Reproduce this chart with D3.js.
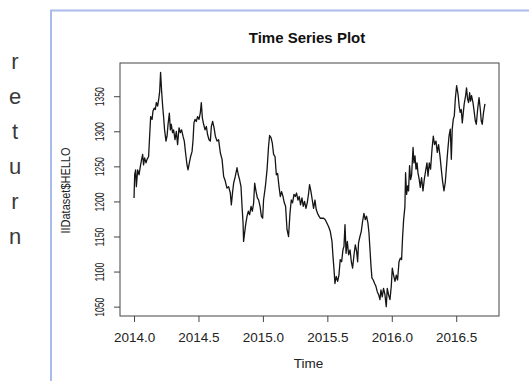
<!DOCTYPE html>
<html>
<head>
<meta charset="utf-8">
<script src="https://cdn.jsdelivr.net/npm/d3@7/dist/d3.min.js"></script>
<style>
  html, body { margin: 0; padding: 0; background: #fff; }
  svg { display: block; font-family: "Liberation Sans", Arial, sans-serif; }
</style>
</head>
<body>
<svg id="chart" width="529" height="381"></svg>
<script>
// Daily series: time in fractional years and the HELLO values
const times = [
  2014.000, 2014.005, 2014.012, 2014.018, 2014.028, 2014.039, 2014.049, 2014.059, 2014.067, 2014.074,
  2014.082, 2014.093, 2014.101, 2014.113, 2014.121, 2014.129, 2014.140, 2014.147, 2014.157, 2014.165,
  2014.173, 2014.183, 2014.191, 2014.199, 2014.206, 2014.214, 2014.222, 2014.230, 2014.237, 2014.248,
  2014.256, 2014.264, 2014.274, 2014.282, 2014.289, 2014.299, 2014.307, 2014.318, 2014.328, 2014.338,
  2014.349, 2014.359, 2014.369, 2014.380, 2014.390, 2014.400, 2014.411, 2014.419, 2014.429, 2014.439,
  2014.450, 2014.458, 2014.465, 2014.473, 2014.483, 2014.493, 2014.504, 2014.514, 2014.522, 2014.530,
  2014.540, 2014.551, 2014.561, 2014.571, 2014.582, 2014.592, 2014.600, 2014.610, 2014.621, 2014.631,
  2014.644, 2014.656, 2014.670, 2014.683, 2014.695, 2014.708, 2014.721, 2014.734, 2014.747, 2014.755,
  2014.765, 2014.773, 2014.786, 2014.799, 2014.809, 2014.819, 2014.830, 2014.838, 2014.846, 2014.850,
  2014.858, 2014.866, 2014.877, 2014.887, 2014.897, 2014.908, 2014.918, 2014.928, 2014.936, 2014.947,
  2014.957, 2014.967, 2014.978, 2014.988, 2014.998, 2015.005, 2015.019, 2015.032, 2015.044, 2015.052,
  2015.063, 2015.073, 2015.083, 2015.094, 2015.104, 2015.114, 2015.125, 2015.135, 2015.145, 2015.156,
  2015.166, 2015.176, 2015.187, 2015.199, 2015.210, 2015.220, 2015.230, 2015.241, 2015.251, 2015.261,
  2015.272, 2015.282, 2015.292, 2015.303, 2015.313, 2015.323, 2015.334, 2015.344, 2015.355, 2015.362,
  2015.373, 2015.383, 2015.393, 2015.404, 2015.414, 2015.424, 2015.435, 2015.445, 2015.471, 2015.484,
  2015.497, 2015.510, 2015.523, 2015.536, 2015.544, 2015.552, 2015.559, 2015.569, 2015.580, 2015.590,
  2015.600, 2015.611, 2015.621, 2015.629, 2015.637, 2015.645, 2015.655, 2015.665, 2015.676, 2015.686,
  2015.696, 2015.707, 2015.717, 2015.727, 2015.735, 2015.742, 2015.753, 2015.763, 2015.773, 2015.784,
  2015.794, 2015.804, 2015.815, 2015.823, 2015.831, 2015.839, 2015.846, 2015.856, 2015.867, 2015.877,
  2015.888, 2015.898, 2015.908, 2015.916, 2015.926, 2015.936, 2015.947, 2015.957, 2015.965, 2015.975,
  2015.986, 2015.996, 2016.004, 2016.014, 2016.025, 2016.035, 2016.045, 2016.056, 2016.066, 2016.076,
  2016.084, 2016.092, 2016.102, 2016.107, 2016.115, 2016.123, 2016.130, 2016.138, 2016.146, 2016.154,
  2016.165, 2016.172, 2016.180, 2016.188, 2016.196, 2016.203, 2016.213, 2016.221, 2016.231, 2016.242,
  2016.252, 2016.262, 2016.273, 2016.281, 2016.291, 2016.301, 2016.312, 2016.322, 2016.332, 2016.343,
  2016.353, 2016.363, 2016.374, 2016.384, 2016.394, 2016.405, 2016.415, 2016.423, 2016.433, 2016.444,
  2016.454, 2016.462, 2016.469, 2016.477, 2016.485, 2016.493, 2016.503, 2016.514, 2016.524, 2016.531,
  2016.539, 2016.547, 2016.555, 2016.562, 2016.573, 2016.580, 2016.588, 2016.596, 2016.604, 2016.611,
  2016.619, 2016.630, 2016.640, 2016.648, 2016.656, 2016.666, 2016.677, 2016.687, 2016.694, 2016.702,
  2016.712, 2016.723
];
const hello = [
  1205, 1238, 1245, 1221, 1245, 1238, 1250, 1260, 1267, 1252,
  1262, 1255, 1260, 1264, 1293, 1321, 1317, 1329, 1333, 1331,
  1341, 1336, 1345, 1357, 1384, 1357, 1336, 1319, 1302, 1286,
  1293, 1310, 1326, 1302, 1310, 1298, 1302, 1288, 1300, 1281,
  1305, 1298, 1302, 1293, 1286, 1269, 1252, 1245, 1255, 1264,
  1271, 1288, 1312, 1317, 1314, 1321, 1317, 1326, 1341, 1319,
  1310, 1302, 1307, 1295, 1288, 1286, 1307, 1314, 1305, 1293,
  1286, 1288, 1269, 1260, 1236, 1229, 1219, 1221, 1212, 1195,
  1214, 1226, 1236, 1248, 1238, 1231, 1221, 1193, 1169, 1143,
  1155, 1167, 1179, 1186, 1181, 1193, 1186, 1198, 1226, 1214,
  1205, 1202, 1193, 1179, 1176, 1202, 1221, 1245, 1279, 1294,
  1291, 1283, 1267, 1264, 1238, 1240, 1221, 1207, 1214, 1207,
  1198, 1193, 1160, 1150, 1183, 1202, 1198, 1210, 1207, 1212,
  1202, 1207, 1195, 1205, 1193, 1200, 1190, 1198, 1212, 1224,
  1214, 1202, 1190, 1202, 1188, 1183, 1179, 1176, 1176, 1174,
  1169, 1164, 1157, 1143, 1121, 1102, 1083, 1093, 1086, 1095,
  1117, 1114, 1131, 1136, 1167, 1126, 1143, 1124, 1131, 1114,
  1105, 1124, 1138, 1129, 1114, 1141, 1150, 1157, 1171, 1183,
  1174, 1179, 1169, 1155, 1131, 1107, 1091, 1088, 1083, 1079,
  1071, 1067, 1060, 1074, 1064, 1076, 1067, 1050, 1076, 1067,
  1060, 1079, 1105, 1095, 1086, 1095, 1088, 1114, 1119, 1117,
  1150, 1174, 1193, 1241, 1210, 1222, 1215, 1251, 1231, 1238,
  1277, 1255, 1265, 1246, 1255, 1241, 1231, 1220, 1234, 1215,
  1231, 1243, 1255, 1236, 1255, 1246, 1274, 1293, 1281, 1286,
  1270, 1281, 1265, 1246, 1229, 1215, 1227, 1246, 1270, 1293,
  1303, 1260, 1303, 1317, 1322, 1346, 1365, 1353, 1334, 1327,
  1331, 1312, 1327, 1339, 1351, 1362, 1346, 1341, 1355, 1343,
  1351, 1341, 1327, 1315, 1310, 1331, 1348, 1331, 1315, 1310,
  1327, 1339
];
const xTicks = [2014.0, 2014.5, 2015.0, 2015.5, 2016.0, 2016.5];
const yTicks = [1050, 1100, 1150, 1200, 1250, 1300, 1350];
const sideLetters = ["r", "e", "t", "u", "r", "n"];
const titleText = "Time Series Plot";
const xTitle = "Time";
const yTitle = "IIDataset$HELLO";

const svg = d3.select("#chart");
const plot = { left: 120, right: 499, top: 63, bottom: 316 };

// Vertical word in the left margin
svg.append("g")
  .selectAll("text")
  .data(sideLetters)
  .join("text")
  .attr("x", 15)
  .attr("y", (d, i) => 68.5 + i * 35)
  .attr("text-anchor", "middle")
  .attr("font-size", 22)
  .attr("fill", "#3a3a3a")
  .text(d => d);

// Light blue frame around the chart panel
svg.append("path")
  .attr("d", "M51,381 V10.5 H529")
  .attr("fill", "none")
  .attr("stroke", "#a9bbea")
  .attr("stroke-width", 2);

// R-style scales: data range padded by 4% on each side
const tExt = d3.extent(times), vExt = d3.extent(hello);
const tPad = (tExt[1] - tExt[0]) * 0.04, vPad = (vExt[1] - vExt[0]) * 0.04;
const x = d3.scaleLinear().domain([tExt[0] - tPad, tExt[1] + tPad]).range([plot.left, plot.right]);
const y = d3.scaleLinear().domain([vExt[0] - vPad, vExt[1] + vPad]).range([plot.bottom, plot.top]);

// Series line
const line = d3.line().x((d, i) => x(times[i])).y(d => y(d));
svg.append("path")
  .datum(hello)
  .attr("d", line)
  .attr("fill", "none")
  .attr("stroke", "#151515")
  .attr("stroke-width", 1.3)
  .attr("stroke-linejoin", "round");

// Axes
const xAxis = svg.append("g")
  .attr("transform", `translate(0,${plot.bottom})`)
  .call(d3.axisBottom(x).tickValues(xTicks).tickFormat(d3.format(".1f")).tickSize(6).tickPadding(10));
xAxis.select(".domain").remove();
xAxis.selectAll("line").attr("stroke", "#444");
xAxis.selectAll("text").attr("font-size", 13.5).attr("fill", "#222")
  .attr("font-family", "Liberation Sans, Arial, sans-serif");

const yAxis = svg.append("g")
  .attr("transform", `translate(${plot.left},0)`)
  .call(d3.axisLeft(y).tickValues(yTicks).tickFormat(d3.format("d")).tickSize(6));
yAxis.select(".domain").remove();
yAxis.selectAll("line").attr("stroke", "#444");
yAxis.selectAll("text")
  .attr("x", null).attr("dy", null)
  .attr("font-size", 13).attr("fill", "#222")
  .attr("font-family", "Liberation Sans, Arial, sans-serif")
  .attr("text-anchor", "middle")
  .attr("textLength", 19)
  .attr("lengthAdjust", "spacingAndGlyphs")
  .attr("transform", "translate(-16.5,0) rotate(-90)");

// Plot frame
svg.append("rect")
  .attr("x", plot.left).attr("y", plot.top)
  .attr("width", plot.right - plot.left).attr("height", plot.bottom - plot.top)
  .attr("fill", "none").attr("stroke", "#444").attr("stroke-width", 1);

// Titles
svg.append("text")
  .attr("x", 307).attr("y", 42.5)
  .attr("text-anchor", "middle")
  .attr("font-size", 15).attr("font-weight", "bold").attr("fill", "#111")
  .text(titleText);

svg.append("text")
  .attr("x", (plot.left + plot.right) / 2 - 1).attr("y", 368)
  .attr("text-anchor", "middle")
  .attr("font-size", 13.5).attr("fill", "#222")
  .text(xTitle);

svg.append("text")
  .attr("transform", `translate(69.5,${(plot.top + plot.bottom) / 2 + 1}) rotate(-90)`)
  .attr("text-anchor", "middle")
  .attr("font-size", 13).attr("fill", "#222")
  .attr("textLength", 86)
  .attr("lengthAdjust", "spacingAndGlyphs")
  .text(yTitle);
</script>
</body>
</html>
